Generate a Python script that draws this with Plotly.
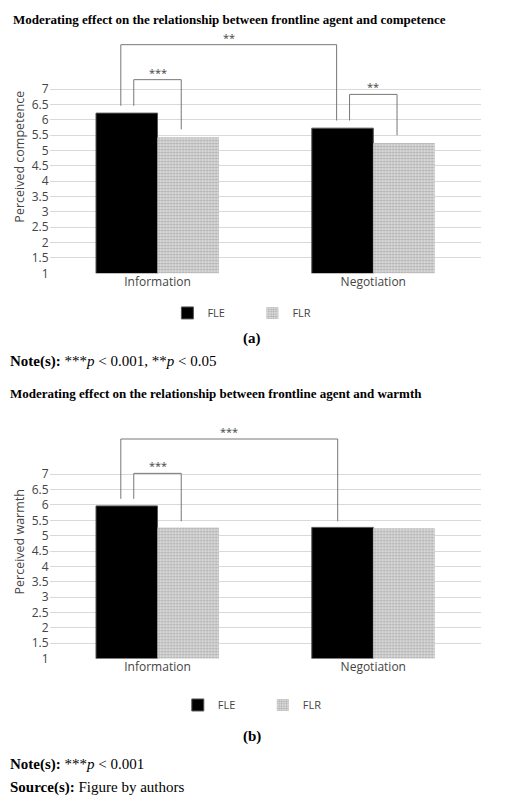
import plotly.graph_objects as go

categories = ["Information", "Negotiation"]
fle_competence = [6.22, 5.73]
flr_competence = [5.43, 5.25]
fle_warmth = [5.97, 5.27]
flr_warmth = [5.27, 5.24]
tick_vals = [1, 1.5, 2, 2.5, 3, 3.5, 4, 4.5, 5, 5.5, 6, 6.5, 7]

# brackets: (x left, x right, y top, left leg bottom, right leg bottom, label)
brackets_a = [(-0.11, 0.11, 7.31, 6.46, 5.69, "***"),
              (-0.17, 0.83, 8.45, 6.46, 5.98, "**"),
              (0.89, 1.11, 6.83, 5.98, 5.50, "**")]
brackets_b = [(-0.11, 0.11, 7.03, 6.20, 5.47, "***"),
              (-0.17, 0.835, 8.15, 6.20, 5.47, "***")]

H = 801
def py(px):
    return 1 - px / H

font = "Open Sans"
serif = "Liberation Serif"
fig = go.Figure()

pat = dict(shape=".", fgcolor="#777", bgcolor="#e6e6e6", size=3, solidity=0.5)
fig.add_trace(go.Bar(x=categories, y=fle_competence, name="FLE", marker=dict(color="black", line=dict(color="#555", width=1)),
                     xaxis="x", yaxis="y", legend="legend"))
fig.add_trace(go.Bar(x=categories, y=flr_competence, name="FLR", marker=dict(color="#e6e6e6", pattern=pat, line=dict(width=0)),
                     xaxis="x", yaxis="y", legend="legend"))
fig.add_trace(go.Bar(x=categories, y=fle_warmth, name="FLE", marker=dict(color="black", line=dict(color="#555", width=1)),
                     xaxis="x2", yaxis="y2", legend="legend2"))
fig.add_trace(go.Bar(x=categories, y=flr_warmth, name="FLR", marker=dict(color="#e6e6e6", pattern=pat, line=dict(width=0)),
                     xaxis="x2", yaxis="y2", legend="legend2"))

rng = [1, 8.6]
ax = dict(tickfont=dict(family=font, size=12, color="#444"), showline=False, ticks="")
fig.update_layout(
    width=520, height=801, margin=dict(l=0, r=0, t=0, b=0),
    paper_bgcolor="white", plot_bgcolor="white", barmode="group", bargap=0.43, bargroupgap=0,
    xaxis=dict(domain=[0.08, 0.91], anchor="y", **ax),
    yaxis=dict(domain=[py(268), py(268 - 7.6 * 31)], range=rng, tickvals=tick_vals, gridcolor="#d9d9d9",
               zeroline=False, title=dict(text="Perceived competence", font=dict(family=font, size=12.5, color="#444"), standoff=4), **ax),
    xaxis2=dict(domain=[0.08, 0.91], anchor="y2", **ax),
    yaxis2=dict(domain=[py(657), py(657 - 7.6 * 31)], range=rng, tickvals=tick_vals, gridcolor="#d9d9d9",
                zeroline=False, title=dict(text="Perceived warmth", font=dict(family=font, size=12.5, color="#444"), standoff=4), **ax),
    legend=dict(orientation="h", x=0.47, xanchor="center", y=py(308), yanchor="middle",
                font=dict(family=font, size=11, color="#444"), itemwidth=30, entrywidth=40, tracegroupgap=0),
    legend2=dict(orientation="h", x=0.49, xanchor="center", y=py(704), yanchor="middle",
                 font=dict(family=font, size=11, color="#444"), itemwidth=30, entrywidth=40, tracegroupgap=0),
)

for brackets, xr, yr in [(brackets_a, "x", "y"), (brackets_b, "x2", "y2")]:
    for x0, x1, top, lb, rb, lab in brackets:
        fig.add_shape(type="path", xref=xr, yref=yr,
                      path=f"M {x0} {lb} L {x0} {top} L {x1} {top} L {x1} {rb}",
                      line=dict(color="#777", width=1))
        fig.add_annotation(x=(x0 + x1) / 2, y=top, xref=xr, yref=yr, text=lab, showarrow=False,
                           yanchor="bottom", yshift=-2, font=dict(family=font, size=11, color="#444"))

texts = [
    (12, 0.005, "left", "<b>Moderating effect on the relationship between frontline agent and competence</b>", 13),
    (334, 0.47, "center", "<b>(a)</b>", 15),
    (357, 0.0, "left", "<b>Note(s):</b> ***<i>p</i> &lt; 0.001, **<i>p</i> &lt; 0.05", 15),
    (389, 0.0, "left", "<b>Moderating effect on the relationship between frontline agent and warmth</b>", 13),
    (736, 0.47, "center", "<b>(b)</b>", 15),
    (764, 0.0, "left", "<b>Note(s):</b> ***<i>p</i> &lt; 0.001", 15),
    (787, 0.0, "left", "<b>Source(s):</b> Figure by authors", 15),
]
for y, x, anchor, t, s in texts:
    fig.add_annotation(xref="paper", yref="paper", x=x, y=py(y), xanchor=anchor, yanchor="middle",
                       text=t, showarrow=False, font=dict(family=serif, size=s, color="black"))

fig.write_html("out.html")
